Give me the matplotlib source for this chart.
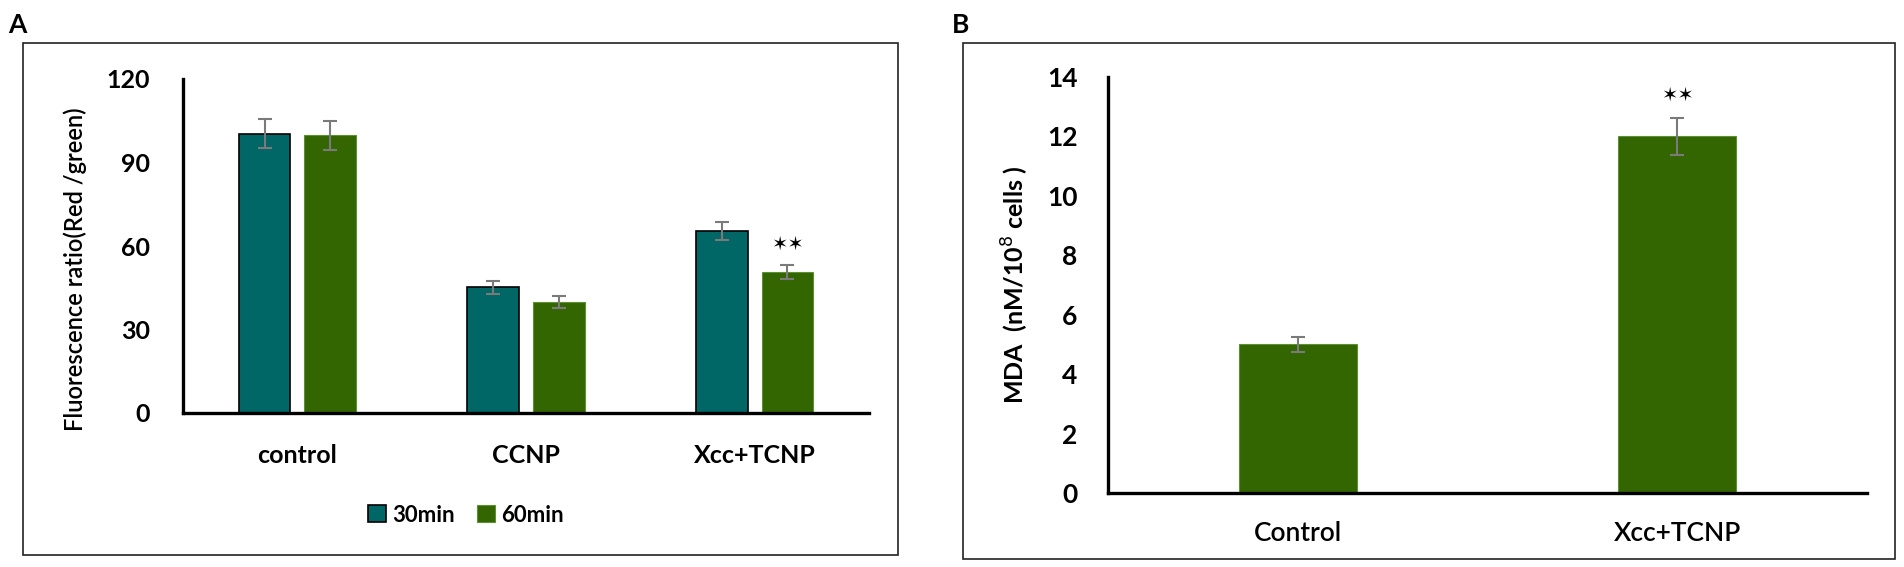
import matplotlib.pyplot as plt
from matplotlib.patches import Rectangle, Patch
import numpy as np

plt.rcParams['font.family'] = ['Lato', 'DejaVu Sans']

# panel A data
groups_a = ['control', 'CCNP', 'Xcc+TCNP']
min30 = [100.3, 45.2, 65.5]
min30_err = [5.2, 2.4, 3.2]
min60 = [99.8, 40.0, 50.5]
min60_err = [5.2, 2.1, 2.5]
series_names = ['30min', '60min']
yticks_a = [0, 30, 60, 90, 120]

# panel B data
groups_b = ['Control', 'Xcc+TCNP']
mda = [5.0, 12.0]
mda_err = [0.26, 0.62]
yticks_b = [0, 2, 4, 6, 8, 10, 12, 14]

teal = '#006666'
green = '#336600'
errc = '#7a7a7a'

W, H = 1904, 567
fig = plt.figure(figsize=(W / 100, H / 100), dpi=100)

# panel frames
fig.patches.append(Rectangle((23 / W, 1 - 555 / H), 875 / W, 512 / H, transform=fig.transFigure,
                             fill=False, edgecolor='#222222', linewidth=1.2))
fig.patches.append(Rectangle((963 / W, 1 - 559 / H), 932 / W, 516 / H, transform=fig.transFigure,
                             fill=False, edgecolor='#222222', linewidth=1.2))
fig.text(8 / W, 1 - 25 / H, 'A', fontsize=19, fontweight='bold', va='center', ha='left')
fig.text(952 / W, 1 - 25 / H, 'B', fontsize=19, fontweight='bold', va='center', ha='left')

# ---- panel A
axa = fig.add_axes([183 / W, 1 - 413 / H, 686 / W, 334 / H])
x = np.arange(len(groups_a))
bw = 0.226
off = 0.1435
ekw = dict(ecolor=errc, elinewidth=1.5, capthick=1.5)
axa.bar(x - off, min30, bw, yerr=min30_err, color=teal, edgecolor='black', linewidth=1.2,
        capsize=5, error_kw=ekw, zorder=2)
axa.bar(x + off, min60, bw, yerr=min60_err, color=green, edgecolor='#5f8f35', linewidth=0.8,
        capsize=5, error_kw=ekw, zorder=2)
axa.text(x[2] + off, min60[2] + min60_err[2] + 7.5, '✶✶', ha='center', va='center',
         fontsize=14, family='DejaVu Sans')
axa.set_xlim(-0.5, 2.5)
axa.set_ylim(0, 120)
axa.set_yticks(yticks_a)
axa.set_xticks(x)
axa.set_xticklabels(groups_a, fontsize=18, fontweight='bold')
axa.tick_params(axis='y', length=0, pad=24, labelsize=18)
axa.tick_params(axis='x', length=0, pad=22)
for t in axa.get_yticklabels():
    t.set_fontweight('bold')
for s in ['top', 'right']:
    axa.spines[s].set_visible(False)
for s in ['left', 'bottom']:
    axa.spines[s].set_linewidth(2.4)
axa.set_ylabel('Fluorescence ratio(Red /green)', fontsize=17, fontweight='semibold')
axa.yaxis.set_label_coords(-0.14, 0.43)

handles = [Patch(facecolor=teal, edgecolor='black', linewidth=1.2),
           Patch(facecolor=green, edgecolor='#5f8f35', linewidth=0.8)]
fig.legend(handles, series_names, loc='center', bbox_to_anchor=(466 / W, 1 - 515 / H), ncol=2,
           frameon=False, handlelength=0.8, handleheight=0.8, handletextpad=0.3,
           columnspacing=1.0, prop={'size': 16, 'weight': 'bold'})

# ---- panel B
axb = fig.add_axes([1108 / W, 1 - 493 / H, 759 / W, 416 / H])
xb = np.arange(len(groups_b))
axb.bar(xb, mda, 0.31, yerr=mda_err, color=green, edgecolor='#5f8f35', linewidth=0.8,
        capsize=5, error_kw=ekw, zorder=2)
axb.text(xb[1], mda[1] + mda_err[1] + 0.75, '✶✶', ha='center', va='center',
         fontsize=14, family='DejaVu Sans')
axb.set_xlim(-0.5, 1.5)
axb.set_ylim(0, 14)
axb.set_yticks(yticks_b)
axb.set_xticks(xb)
axb.set_xticklabels(groups_b, fontsize=19, fontweight='semibold')
axb.tick_params(axis='y', length=0, pad=22, labelsize=19)
axb.tick_params(axis='x', length=0, pad=20)
for t in axb.get_yticklabels():
    t.set_fontweight('bold')
for s in ['top', 'right']:
    axb.spines[s].set_visible(False)
for s in ['left', 'bottom']:
    axb.spines[s].set_linewidth(2.4)
axb.set_ylabel('MDA  (nM/10$^{8}$ cells )', fontsize=18, fontweight='bold')
axb.yaxis.set_label_coords(-0.101, 0.5)

fig.savefig('out.png', dpi=100)
